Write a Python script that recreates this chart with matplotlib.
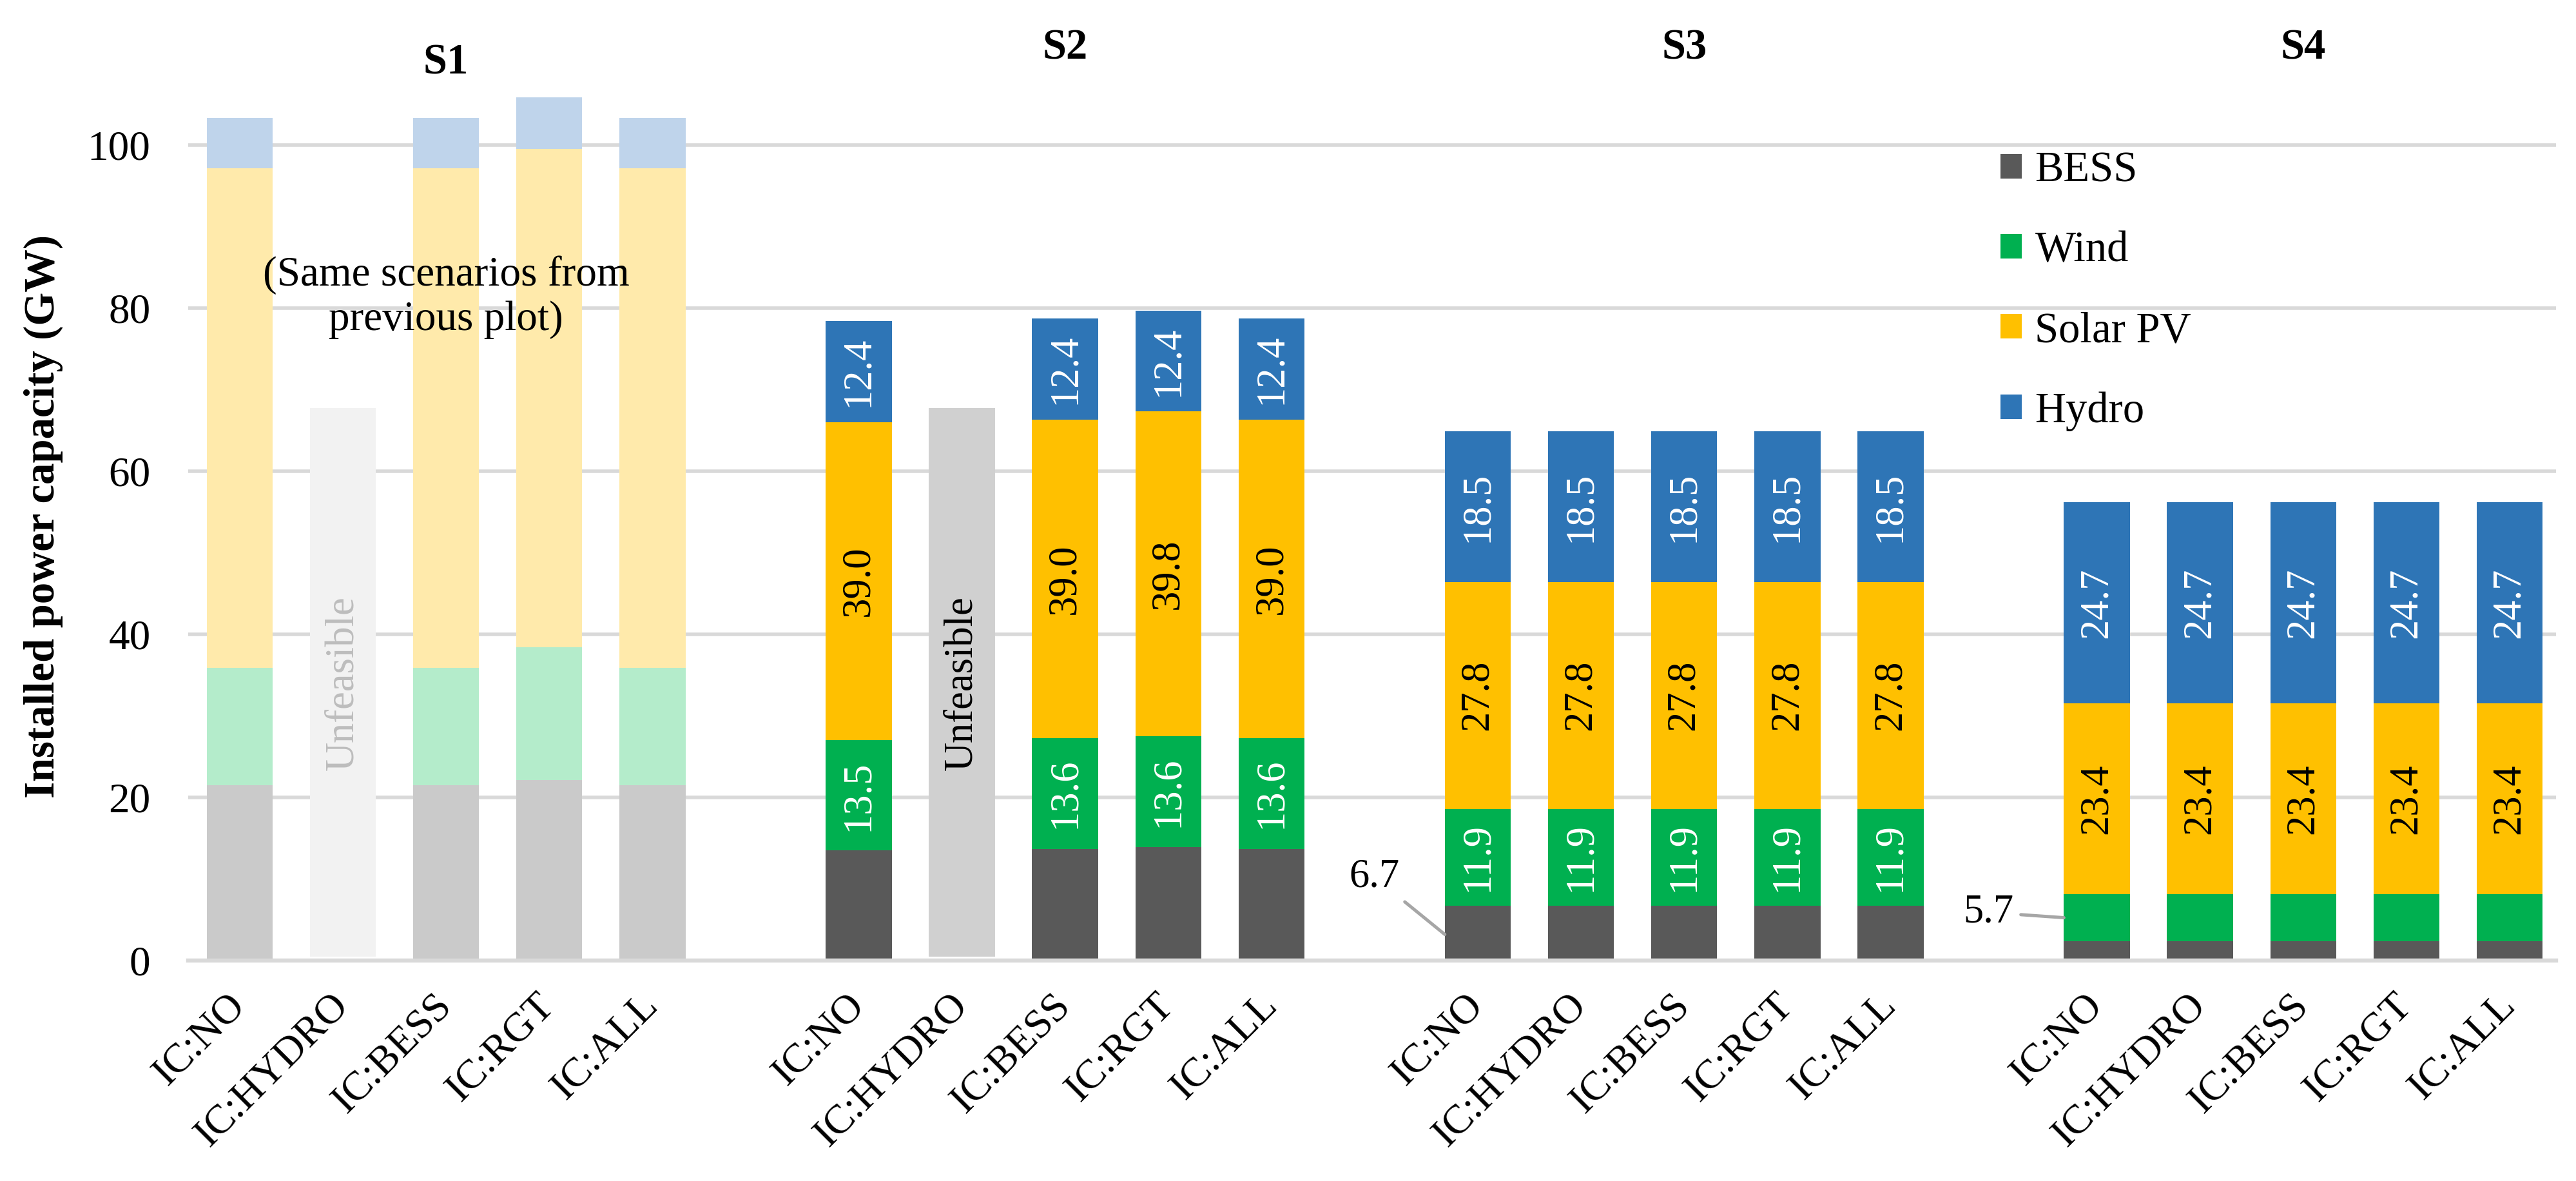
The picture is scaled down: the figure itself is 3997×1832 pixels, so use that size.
import matplotlib.pyplot as plt
import numpy as np

plt.rcParams['font.family'] = ['Liberation Serif', 'DejaVu Serif']

groups = ['S1', 'S2', 'S3', 'S4']
cases = ['IC:NO', 'IC:HYDRO', 'IC:BESS', 'IC:RGT', 'IC:ALL']
techs = ['BESS', 'Wind', 'Solar PV', 'Hydro']

# installed capacity in GW, one list per group, one value per case
bess = [[21.5, 0, 21.5, 22.1, 21.5],
        [13.5, 0, 13.7, 13.9, 13.7],
        [6.7, 6.7, 6.7, 6.7, 6.7],
        [2.4, 2.4, 2.4, 2.4, 2.4]]
wind = [[14.4, 0, 14.4, 16.3, 14.4],
        [13.5, 0, 13.6, 13.6, 13.6],
        [11.9, 11.9, 11.9, 11.9, 11.9],
        [5.7, 5.7, 5.7, 5.7, 5.7]]
solar = [[61.2, 0, 61.2, 61.1, 61.2],
         [39.0, 0, 39.0, 39.8, 39.0],
         [27.8, 27.8, 27.8, 27.8, 27.8],
         [23.4, 23.4, 23.4, 23.4, 23.4]]
hydro = [[6.2, 0, 6.2, 6.3, 6.2],
         [12.4, 0, 12.4, 12.4, 12.4],
         [18.5, 18.5, 18.5, 18.5, 18.5],
         [24.7, 24.7, 24.7, 24.7, 24.7]]

# unfeasible runs: (group, case) drawn as a placeholder bar
unfeasible = [(0, 1), (1, 1)]
unfeas_base = 0.5
unfeas_top = 67.7

colors = ['#595959', '#00b050', '#ffc000', '#2e75b6']
faded = ['#cacaca', '#b4eccb', '#ffeaab', '#bfd4eb']
label_colors = ['white', 'white', 'black', 'white']

fig = plt.figure(figsize=(19.99, 9.16), dpi=200)
ax = fig.add_axes([0.073, 0.1867, 0.919, 0.7735])

w = 0.64
fs = 22.5
handles = []
xticks = []
xlabels = []
for g in range(len(groups)):
    x = np.arange(len(cases)) + g * 6
    xticks += list(x)
    xlabels += cases
    bottom = np.zeros(len(cases))
    for t, vals in enumerate([bess[g], wind[g], solar[g], hydro[g]]):
        vals = np.array(vals)
        c = faded[t] if g == 0 else colors[t]
        b = ax.bar(x, vals, w, bottom=bottom, color=c, zorder=2, label=techs[t])
        if g == 1:
            handles.append(b)
        # value labels on S2-S4 (BESS only via callouts, S4 wind too small)
        if g > 0 and t > 0 and not (g == 3 and t == 1):
            for xi, v, bt in zip(x, vals, bottom):
                if v > 0:
                    ax.text(xi, bt + v / 2, '%.1f' % v, rotation=90, ha='center',
                            va='center', color=label_colors[t], fontsize=fs, zorder=3)
        bottom = bottom + vals

for g, j in unfeasible:
    xi = g * 6 + j
    ax.bar(xi, unfeas_top - unfeas_base, w, bottom=unfeas_base,
           color='#f2f2f2' if g == 0 else '#d0d0d0', zorder=2)
    ax.text(xi, 34, 'Unfeasible', rotation=90, ha='center', va='center',
            color='#bdbdbd' if g == 0 else 'black', fontsize=fs, zorder=3)

ax.text(2, 81.3, '(Same scenarios from\nprevious plot)', ha='center', va='center',
        fontsize=23.5, linespacing=1.2, zorder=3)

title_y = [110.0, 111.8, 111.8, 111.8]
for g, name in enumerate(groups):
    ax.text(g * 6 + 2, title_y[g], name, ha='center', va='center',
            fontsize=24, fontweight='bold', clip_on=False)

# callouts for the small segments
ax.annotate('%.1f' % bess[2][0], xy=(12 - 0.32, 3.2), xytext=(11.0, 10.2),
            ha='center', va='center', fontsize=fs,
            arrowprops=dict(arrowstyle='-', color='#a6a6a6', lw=1.8, shrinkB=0))
ax.annotate('%.1f' % wind[3][0], xy=(18 - 0.32, bess[3][0] + wind[3][0] / 2),
            xytext=(16.95, 5.9), ha='center', va='center', fontsize=fs,
            arrowprops=dict(arrowstyle='-', color='#a6a6a6', lw=1.8, shrinkB=0))

ax.set_xlim(-0.5, 22.45)
ax.set_ylim(0, 112)
ax.set_yticks(np.arange(0, 101, 20))
ax.set_xticks(xticks)
ax.set_xticklabels(xlabels, rotation=45, ha='right', va='center', rotation_mode='anchor')
ax.tick_params(axis='x', length=0, pad=22, labelsize=23)
ax.tick_params(axis='y', length=0, pad=21, labelsize=23.5)
ax.yaxis.grid(True, color='#d9d9d9', lw=2.0)
ax.set_axisbelow(True)
for s in ['top', 'right', 'left']:
    ax.spines[s].set_visible(False)
ax.spines['bottom'].set_color('#d9d9d9')
ax.spines['bottom'].set_linewidth(2.3)

fig.text(0.0168, 0.563, 'Installed power capacity (GW)', rotation=90, ha='center',
         va='center', fontsize=24, fontweight='bold')

ax.legend(handles=handles, loc='upper left', bbox_to_anchor=(0.7654, 0.886), frameon=False,
          fontsize=24, labelspacing=0.95, handlelength=0.5, handleheight=0.5,
          handletextpad=0.3, borderpad=0, borderaxespad=0)

fig.savefig('out.png', dpi=200)
